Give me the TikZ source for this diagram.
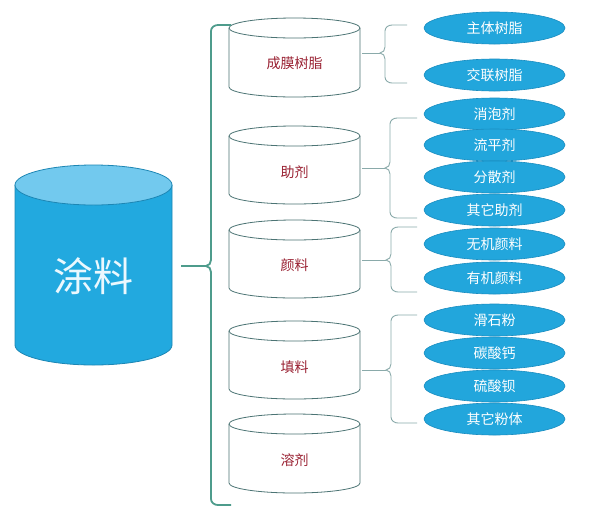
\documentclass[tikz,border=0pt]{standalone}
\usepackage{fontspec}
\newfontfamily\cjk{Noto Sans CJK SC}
\usetikzlibrary{shapes.geometric}
\definecolor{bigbody}{HTML}{22A9DF}
\definecolor{bigtop}{HTML}{72C9EE}
\definecolor{bigedge}{HTML}{1C86B4}
\definecolor{cyledge}{HTML}{4C7474}
\definecolor{cyltxt}{HTML}{9A2233}
\definecolor{pillfill}{HTML}{22A6DC}
\definecolor{pilledge}{HTML}{1A8DC0}
\definecolor{mainbrace}{HTML}{4E9C8C}
\definecolor{smallbrace}{HTML}{8AAAAA}
\tikzset{
  cylline/.style={draw=cyledge, line width=0.8pt},
  cyltext/.style={font=\cjk\fontsize{14}{14}\selectfont, text=cyltxt, inner sep=0pt},
  pill/.style={ellipse, minimum width=141pt, minimum height=32pt, inner sep=0pt,
    fill=pillfill, draw=pilledge, line width=0.6pt, text=white, font=\cjk\fontsize{14}{14}\selectfont},
  mbrace/.style={draw=mainbrace, line width=1.8pt},
  sbrace/.style={draw=smallbrace, line width=0.9pt},
}
\newcommand\smallcyl[5]{%
  \fill[white] (229,#2) -- (229,#3) arc(180:0:65.5 and 10) -- (360,#2) -- cycle;
  \draw[cylline] (229,#2) -- (229,#3) arc(180:0:65.5 and 10) -- (360,#2);
  \draw[cylline, fill=white] (294.5,#2) ellipse (65.5 and 10);
  \node[cyltext] (#1) at (294.5,#4) {#5};
  \coordinate (#1r) at (360,#4);
}
% x, ytop, ybot, ytip, xend, start coordinate, style
\newcommand\bracepath[7]{%
  \coordinate (#6tip) at ({#1-5},#4);
  \draw[#7] (#5,#2) -- ({#1+7},#2) to[out=180,in=90] (#1,{#2+6})
    -- (#1,{#4-6}) to[out=-90,in=0] (#6tip) to[out=0,in=90] (#1,{#4+6})
    -- (#1,{#3-6}) to[out=-90,in=180] ({#1+7},#3) -- (#5,#3);
  \draw[#7] (#6) -- (#6tip);
}
\begin{document}
\begin{tikzpicture}[x=1pt,y=-1pt]
\useasboundingbox (0,0) rectangle (591,507);
\fill[white] (0,0) rectangle (591,507);
% big cylinder
\fill[bigbody] (15,185) -- (15,345) arc(180:0:78.5 and 20) -- (172,185) -- cycle;
\draw[bigedge, line width=0.8pt] (15,185) -- (15,345) arc(180:0:78.5 and 20) -- (172,185);
\draw[bigedge, line width=0.8pt, fill=bigtop] (93.5,185) ellipse (78.5 and 20);
\node[font=\cjk\fontsize{40}{40}\selectfont, text=white!92!cyan, inner sep=0pt] (tuliao) at (93.5,276) {涂料};
\coordinate (bigr) at (181,266);
% small cylinders
\smallcyl{c1}{28}{87}{63}{成膜树脂}
\smallcyl{c2}{136}{194}{172}{助剂}
\smallcyl{c3}{230}{288}{265}{颜料}
\smallcyl{c4}{331}{389}{367}{填料}
\smallcyl{c5}{424}{483}{460}{溶剂}
% main brace
\bracepath{211}{25}{505}{266}{231}{bigr}{mbrace}
% small braces
\coordinate (c1s) at (362,53);
\coordinate (c2s) at (362,168);
\coordinate (c3s) at (362,260);
\coordinate (c4s) at (362,370);
\bracepath{385}{25}{83}{53}{407}{c1s}{sbrace}
\bracepath{390}{118}{218}{168}{417}{c2s}{sbrace}
\bracepath{391}{227}{292}{260}{417}{c3s}{sbrace}
\bracepath{391}{315}{423}{370}{417}{c4s}{sbrace}
% leaf ellipses
\node[pill] (e1) at (494.5,28) {主体树脂};
\node[pill] (e2) at (494.5,75) {交联树脂};
\node[pill] (e3) at (494.5,114) {消泡剂};
\node[pill] (e4) at (494.5,145) {流平剂};
\node[pill] (e5) at (494.5,177) {分散剂};
\node[pill] (e6) at (494.5,210) {其它助剂};
\node[pill] (e7) at (494.5,244) {无机颜料};
\node[pill] (e8) at (494.5,278) {有机颜料};
\node[pill] (e9) at (494.5,320) {滑石粉};
\node[pill] (e10) at (494.5,353) {碳酸钙};
\node[pill] (e11) at (494.5,386) {硫酸钡};
\node[pill] (e12) at (494.5,419) {其它粉体};
\end{tikzpicture}
\end{document}
